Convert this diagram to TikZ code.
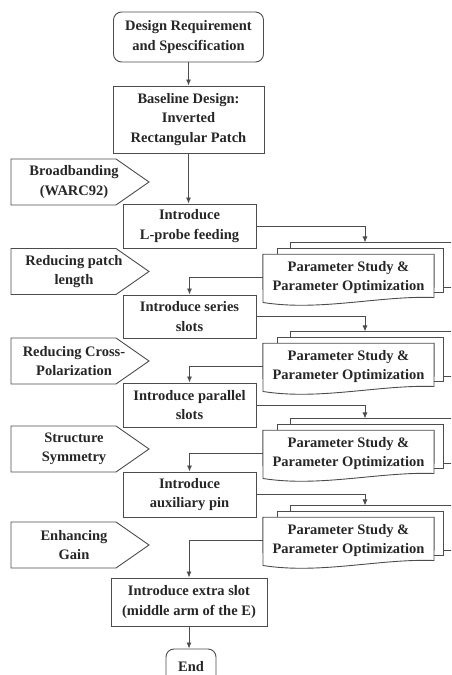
\documentclass[tikz,border=0pt]{standalone}
\usepackage{fontspec}
\setmainfont{Liberation Serif}
\usetikzlibrary{arrows.meta, positioning}
\tikzset{
    boxfont/.style={font=\bfseries\fontsize{14.5}{19.5}\selectfont, text=black!85},
    startstop/.style={rectangle, rounded corners=8pt, align=center, draw=black!70, line width=0.9pt, inner sep=1pt, boxfont},
    process/.style={rectangle, align=center, draw=black!70, line width=0.9pt, inner sep=1pt, boxfont},
    goal/.style={align=center, inner sep=0pt, boxfont},
    paramdoc/.style={rectangle, align=center, minimum width=171pt, minimum height=46pt, inner sep=0pt, boxfont},
    layer/.style={draw=black!70, line width=0.9pt},
    arrow/.style={line width=0.9pt, draw=black!70, -{Latex[length=6pt,width=5pt]}}
}
\begin{document}
\begin{tikzpicture}[x=1pt, y=1pt]
    \useasboundingbox (0,0) rectangle (451,675);
    \clip (0,0) rectangle (451,675);

    % Main flow
    \node[startstop, minimum width=150pt, minimum height=50pt] (start) at (188.5,638) {Design Requirement\\and Spescification};
    \node[process, minimum width=151pt, minimum height=67pt] (base) at (188.5,555.5) {Baseline Design:\\Inverted\\Rectangular Patch};
    \node[process, minimum width=133pt, minimum height=44pt] (lprobe) at (189.5,449) {Introduce\\L-probe feeding};
    \node[process, minimum width=133pt, minimum height=43pt] (series) at (189.5,358.5) {Introduce series\\slots};
    \node[process, minimum width=133pt, minimum height=44pt] (parallel) at (189.5,270) {Introduce parallel\\slots};
    \node[process, minimum width=133pt, minimum height=45pt] (auxpin) at (189.5,180.5) {Introduce\\auxiliary pin};
    \node[process, minimum width=156pt, minimum height=48pt] (extra) at (189,73) {Introduce extra slot\\(middle arm of the E)};
    \node[startstop, minimum width=50pt, minimum height=36pt] (end) at (191,8) {End};

    % Design goals (tags on the left)
    \foreach \y/\txt [count=\i] in {493/{Broadbanding\\(WARC92)}, 403.5/{Reducing patch\\length}, 314/{Reducing Cross-\\Polarization}, 226/{Structure\\Symmetry}, 130/{Enhancing\\Gain}} {
        \draw[layer] (11,\y+23) -- (116,\y+23) -- (149,\y) -- (116,\y-23) -- (11,\y-23) -- cycle;
        \node[goal] (goal\i) at (74,\y) {\txt};
    }

    % Parameter study stacks
    \foreach \y [count=\i] in {397.5, 308.5, 221.5, 134.5} {
        \node[paramdoc] (ps\i) at (348.5,\y) {Parameter Study \&\\Parameter Optimization};
        \draw[layer] (290,\y+29) -- (290,\y+35) -- (470,\y+35) -- (470,\y-10) -- (443,\y-10);
        \draw[layer] (277,\y+23) -- (277,\y+29) -- (443,\y+29) -- (443,\y-15) -- (434,\y-15);
        \draw[layer] (ps\i.north west) -- (ps\i.north east) -- (434,\y-20)
            .. controls (380,\y-18) and (320,\y-34) .. (263,\y-25) -- cycle;
        \coordinate (in\i) at (365,\y+35);
    }

    % Connectors
    \draw[arrow] (start) -- (base);
    \draw[arrow] (base) -- (base.south |- lprobe.north);
    \draw[arrow] (lprobe.east) -| (in1);
    \draw[arrow] (ps1.west) -| (series.north);
    \draw[arrow] (series.east) -| (in2);
    \draw[arrow] (ps2.west) -| (parallel.north);
    \draw[arrow] (parallel.east) -| (in3);
    \draw[arrow] (ps3.west) -| (auxpin.north);
    \draw[arrow] (auxpin.east) -| (in4);
    \draw[arrow] (ps4.west) -| (extra.north);
    \draw[arrow] (extra) -- (extra.south |- end.north);
\end{tikzpicture}
\end{document}
